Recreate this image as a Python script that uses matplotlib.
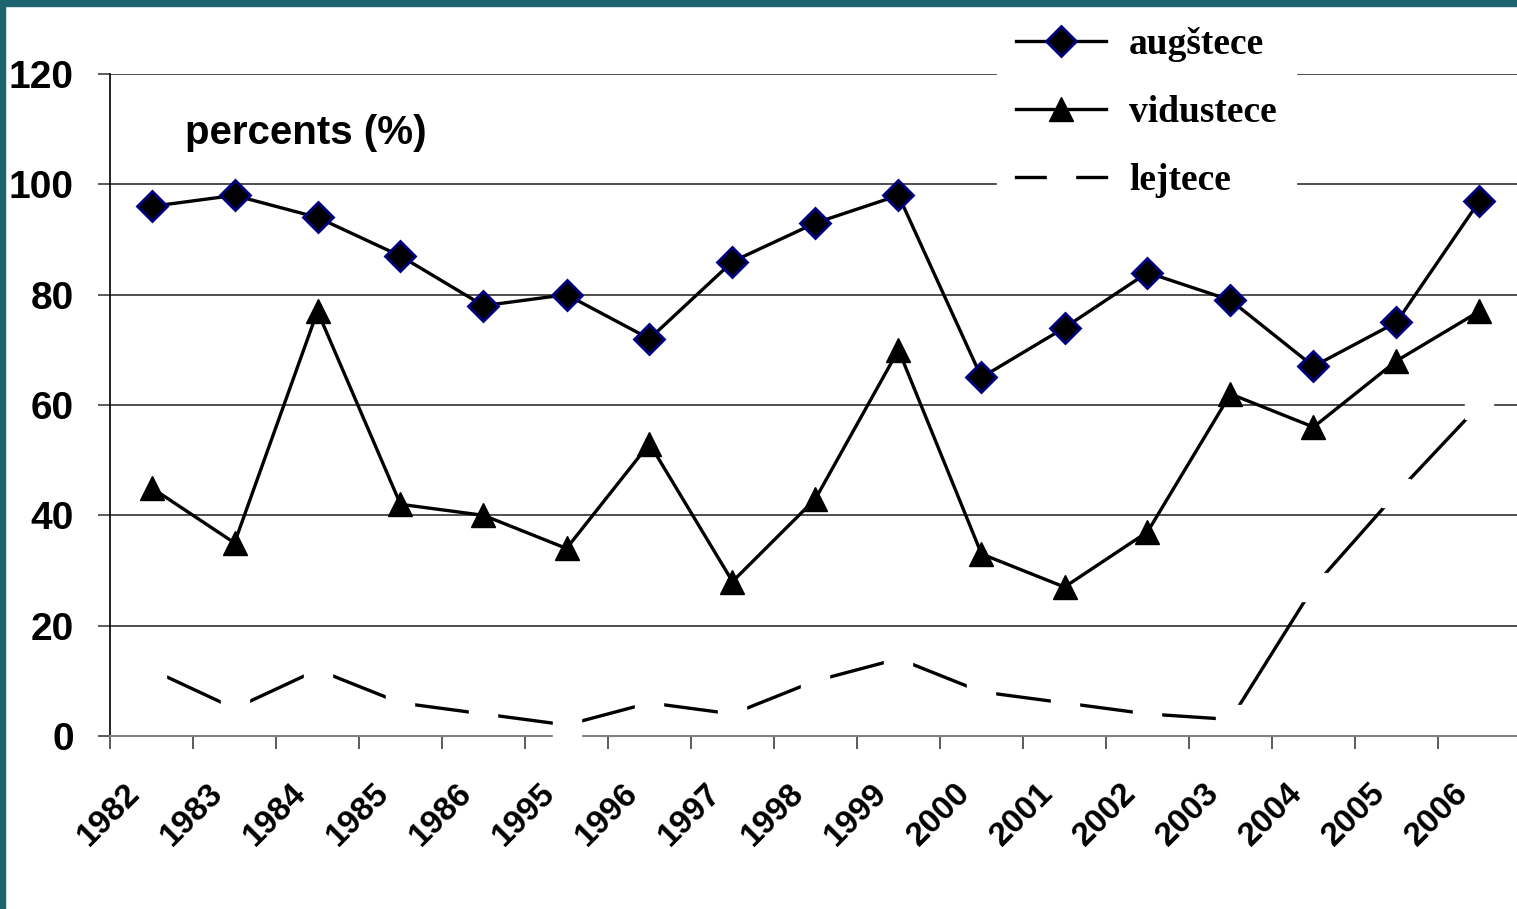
import matplotlib
matplotlib.use("Agg")
import matplotlib.pyplot as plt
from matplotlib.patches import Rectangle
from matplotlib.transforms import ScaledTranslation
import numpy as np

years = ["1982", "1983", "1984", "1985", "1986", "1995", "1996", "1997", "1998",
         "1999", "2000", "2001", "2002", "2003", "2004", "2005", "2006"]
augstece  = [96, 98, 94, 87, 78, 80, 72, 86, 93, 98, 65, 74, 84, 79, 67, 75, 97]
vidustece = [45, 35, 77, 42, 40, 34, 53, 28, 43, 70, 33, 27, 37, 62, 56, 68, 77]
lejtece   = [12, 5, 12, 6, 4, 2, 6, 4, 10, 14, 8, 6, 4, 3, 27, 44, 60]
yticks = [0, 20, 40, 60, 80, 100, 120]

W, H = 1517, 909
fig = plt.figure(figsize=(W / 100, H / 100), dpi=100)
fig.patch.set_facecolor("white")

# teal frame strips (top and left)
TEAL = "#1D6470"
fig.patches.append(Rectangle((0, 1 - 6 / H), 1, 6 / H, transform=fig.transFigure,
                             color=TEAL, zorder=0))
fig.patches.append(Rectangle((0, 0), 5 / W, 1, transform=fig.transFigure,
                             color=TEAL, zorder=0))

ax = fig.add_axes([110 / W, 1 - 736 / H, 1411 / W, (736 - 74) / H])
x = np.arange(len(years))

ax.plot(x, augstece, color="black", lw=2.4, marker="D", ms=15,
        mfc="black", mec="#000080", mew=2, zorder=4, label="augštece")
ax.plot(x, vidustece, color="black", lw=2.4, marker="^", ms=17,
        mfc="black", mec="black", zorder=4, label="vidustece")
ax.plot(x, lejtece, color="black", lw=2.4, marker="s", ms=20,
        mfc="white", mec="white", zorder=5, label="lejtece", clip_on=False)

ax.set_xlim(-0.5, len(years) - 0.5)
ax.set_ylim(0, 120)
ax.set_yticks(yticks)
ax.set_yticklabels([str(v) for v in yticks], fontsize=28, fontweight="bold",
                   family="Liberation Sans")
ax.grid(axis="y", color="#303030", lw=1.2, zorder=1)

ax.set_xticks(x)
ax.set_xticks(np.arange(len(years) + 1) - 0.5, minor=True)
ax.tick_params(axis="x", which="major", length=0, pad=38)
ax.tick_params(axis="x", which="minor", length=9, width=1.2, color="#404040",
               direction="out")
ax.tick_params(axis="y", length=9, width=1.2, color="#404040", pad=17)
ax.set_xticklabels(years, rotation=45, ha="right", va="center",
                   rotation_mode="anchor", fontsize=24, fontweight="bold",
                   family="Liberation Sans")

for s in ["top", "right"]:
    ax.spines[s].set_visible(False)
ax.spines["left"].set_color("black")
ax.spines["left"].set_linewidth(1.2)
ax.spines["bottom"].set_color("#808080")
ax.spines["bottom"].set_linewidth(1.5)

fig.text(185 / W, 1 - 133 / H, "percents (%)", fontsize=29, fontweight="bold",
         family="Liberation Sans", va="center", ha="left")

leg = ax.legend(loc="upper left", bbox_to_anchor=(997 / W, 1 - 8 / H),
                bbox_transform=fig.transFigure, frameon=True, fancybox=False,
                edgecolor="white", facecolor="white", framealpha=1,
                prop={"family": "Liberation Serif", "weight": "bold", "size": 27},
                handlelength=2.4, handletextpad=0.62, labelspacing=0.88,
                borderpad=0.5, borderaxespad=0)
leg.set_zorder(10)

# nudge the rotated year labels left, after all tick settings
shift = ScaledTranslation(-16 / 100, 0, fig.dpi_scale_trans)
for lab in ax.get_xticklabels():
    lab.set_transform(lab.get_transform() + shift)

fig.savefig("out.png", dpi=100)
